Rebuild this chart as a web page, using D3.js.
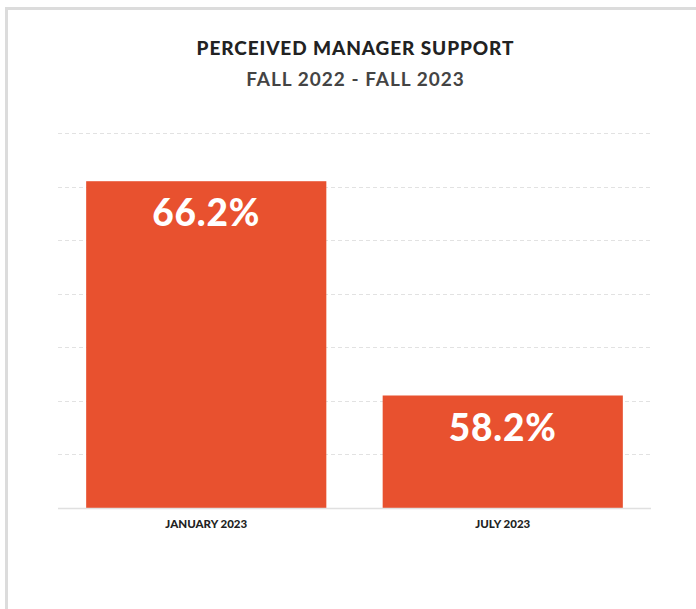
<!DOCTYPE html>
<html>
<head>
<meta charset="utf-8">
<script src="https://cdn.jsdelivr.net/npm/d3@7"></script>
<style>
  html, body { margin: 0; padding: 0; background: #fff; }
  svg { display: block; }
</style>
</head>
<body>
<svg id="chart" width="696" height="609"></svg>
<script>
// Survey results: share of employees who feel supported by their manager
const categories = ["JANUARY 2023", "JULY 2023"];
const values = [66.2, 58.2];
const gridTicks = [54, 56, 58, 60, 62, 64, 66, 68];

const svg = d3.select("#chart");
const plot = { left: 58, right: 651, top: 133, bottom: 508 };

// Card frame
svg.append("rect")
  .attr("x", 6.5).attr("y", 8.5)
  .attr("width", 720).attr("height", 640)
  .attr("fill", "#fff")
  .attr("stroke", "#dcdcdc").attr("stroke-width", 3);

const font = "Lato, 'Open Sans', sans-serif";

// Titles
svg.append("text")
  .attr("x", 355.5).attr("y", 55)
  .attr("text-anchor", "middle")
  .attr("font-family", font).attr("font-weight", 900)
  .attr("font-size", 19).attr("fill", "#222")
  .attr("letter-spacing", 0.9)
  .text("PERCEIVED MANAGER SUPPORT");

svg.append("text")
  .attr("x", 355.5).attr("y", 86)
  .attr("text-anchor", "middle")
  .attr("font-family", font).attr("font-weight", 700)
  .attr("font-size", 19).attr("fill", "#444")
  .attr("letter-spacing", 1.0)
  .text("FALL 2022 - FALL 2023");

const x = d3.scaleBand()
  .domain(categories)
  .range([plot.left, plot.right])
  .paddingInner(0.19)
  .paddingOuter(0.095);

const y = d3.scaleLinear()
  .domain([54, 68])
  .range([plot.bottom, plot.top]);

// Dashed horizontal gridlines
svg.append("g")
  .selectAll("line")
  .data(gridTicks.slice(1))
  .join("line")
  .attr("x1", plot.left).attr("x2", plot.right)
  .attr("y1", d => Math.round(y(d)) + 0.5)
  .attr("y2", d => Math.round(y(d)) + 0.5)
  .attr("stroke", "#e2e2e2")
  .attr("stroke-width", 1)
  .attr("stroke-dasharray", "4,3");

// Bars
svg.append("g")
  .selectAll("rect")
  .data(values)
  .join("rect")
  .attr("x", (d, i) => x(categories[i]))
  .attr("y", d => y(d))
  .attr("width", x.bandwidth())
  .attr("height", d => y(54) - y(d))
  .attr("fill", "#e8512f");

// Baseline
svg.append("line")
  .attr("x1", plot.left).attr("x2", plot.right)
  .attr("y1", plot.bottom + 0.5).attr("y2", plot.bottom + 0.5)
  .attr("stroke", "#e0e0e0").attr("stroke-width", 1.5);

// Value labels inside bars
svg.append("g")
  .selectAll("text")
  .data(values)
  .join("text")
  .attr("x", (d, i) => x(categories[i]) + x.bandwidth() / 2)
  .attr("y", d => y(d) + 45)
  .attr("text-anchor", "middle")
  .attr("font-family", font).attr("font-weight", 900)
  .attr("font-size", 37).attr("fill", "#fff")
  .attr("letter-spacing", 0.8)
  .text(d => d.toFixed(1) + "%");

// Category axis
const xAxis = svg.append("g")
  .attr("transform", `translate(0,${plot.bottom})`)
  .call(d3.axisBottom(x).tickSize(0).tickPadding(12));
xAxis.select(".domain").remove();
xAxis.selectAll("text")
  .attr("font-family", font).attr("font-weight", 900)
  .attr("font-size", 11.5).attr("fill", "#222");
</script>
</body>
</html>
